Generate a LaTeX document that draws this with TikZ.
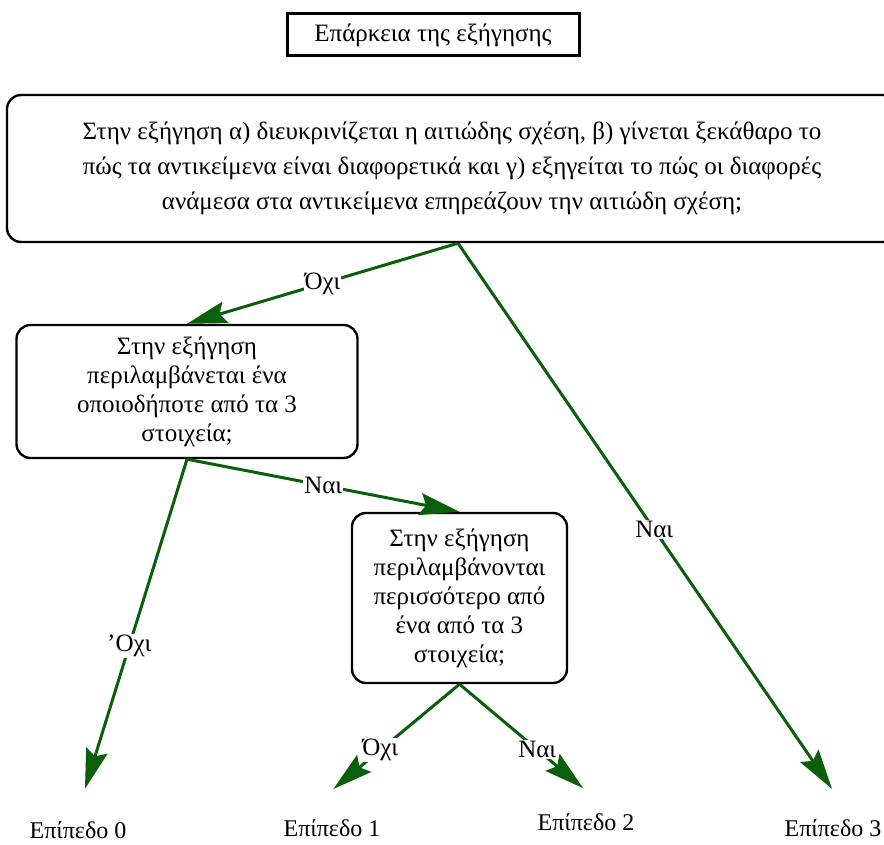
\documentclass[tikz,border=0pt]{standalone}
\usepackage{fontspec}
\setmainfont{Liberation Serif}
\usetikzlibrary{arrows.meta}
\definecolor{arrowgreen}{RGB}{10,95,10}
\tikzset{
  qbox/.style={draw, rounded corners=14pt, line width=2.4pt, align=center,
    font=\fontsize{25}{29}\selectfont},
  arr/.style={draw=arrowgreen, line width=3pt,
    -{Stealth[length=40pt,width=22pt,inset=6pt]}},
  ans/.style={fill=white, inner sep=1pt, font=\fontsize{25}{28}\selectfont},
  level/.style={font=\fontsize{24}{28}\selectfont}
}

\begin{document}
\begin{tikzpicture}[x=1pt,y=-1pt]
  \useasboundingbox (0,0) rectangle (884,845);
  \clip (0,0) rectangle (884,845);
  % question boxes
  \node[draw, line width=3pt, minimum width=292pt, minimum height=42pt,
    font=\fontsize{25}{28}\selectfont] (title) at (433,35) {Επάρκεια της εξήγησης};
  \node[qbox, minimum width=890pt, minimum height=147pt,
    font=\fontsize{25}{35}\selectfont] (main) at (452,168.5)
    {Στην εξήγηση α) διευκρινίζεται η αιτιώδης σχέση, β) γίνεται ξεκάθαρο το\\
     πώς τα αντικείμενα είναι διαφορετικά και γ) εξηγείται το πώς οι διαφορές\\
     ανάμεσα στα αντικείμενα επηρεάζουν την αιτιώδη σχέση;};
  \node[qbox, minimum width=341pt, minimum height=133pt] (q2) at (187,391.5)
    {Στην εξήγηση\\ περιλαμβάνεται ένα\\ οποιοδήποτε από τα 3\\ στοιχεία;};
  \node[qbox, minimum width=215pt, minimum height=170pt] (q3) at (459.5,598)
    {Στην εξήγηση\\ περιλαμβάνονται\\ περισσότερο από\\ ένα από τα 3\\ στοιχεία;};
  % levels
  \node[level] (lvl0) at (78,830) {Επίπεδο 0};
  \node[level] (lvl1) at (332,828) {Επίπεδο 1};
  \node[level] (lvl2) at (586,822) {Επίπεδο 2};
  \node[level] (lvl3) at (833,828) {Επίπεδο 3};
  % answers
  \draw[arr] ([xshift=6pt]main.south) -- node[ans]{Όχι} (q2.north);
  \draw[arr, shorten >=32.7pt] ([xshift=6pt]main.south) -- node[ans]{Ναι}
    ([xshift=17.5pt]lvl3.north);
  \draw[arr, shorten >=30.4pt] (q2.south) -- node[ans, pos=0.52]{{\char"27}Οχι}
    ([xshift=-2pt]lvl0.north);
  \draw[arr] (q2.south) -- node[ans]{Ναι} (q3.north);
  \draw[arr, shorten >=42pt] (q3.south) -- node[ans]{Όχι}
    ([xshift=-31pt]lvl1.north);
  \draw[arr, shorten >=33.7pt] (q3.south) -- node[ans, pos=0.52]{Ναι}
    ([xshift=23pt]lvl2.north);
\end{tikzpicture}
\end{document}
